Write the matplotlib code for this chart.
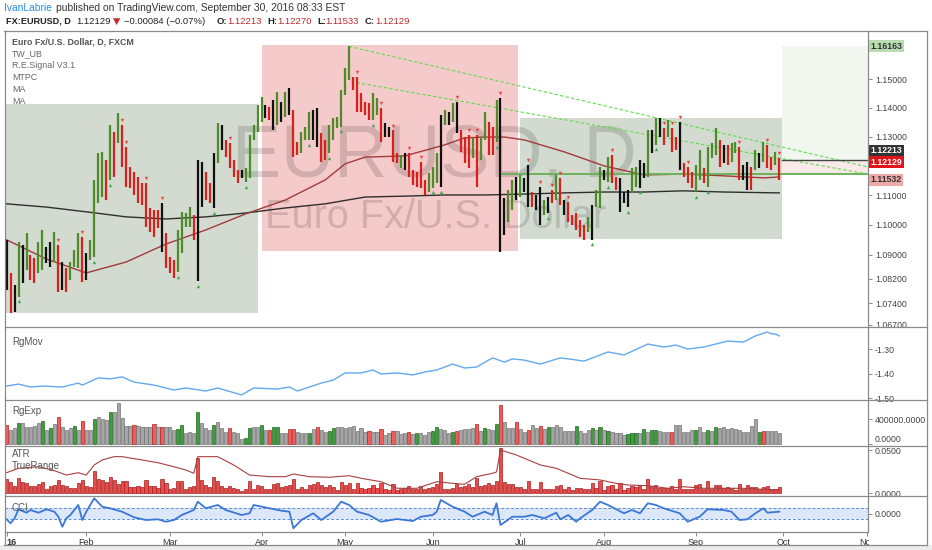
import matplotlib
matplotlib.use("Agg")
import matplotlib.pyplot as plt
from matplotlib.lines import Line2D
from matplotlib.patches import Rectangle
from matplotlib.ticker import FixedLocator, FixedFormatter, NullLocator, NullFormatter
import numpy as np

plt.rcParams['font.family'] = ['Liberation Sans', 'DejaVu Sans']

W, H = 932, 550

# ---- daily EURUSD bars (Jan 4 .. Sep 30 2016, one per weekday) ----
HIGH = [
    1.0950, 1.0840, 1.0800, 1.0943, 1.0933, 1.0973, 1.0900, 1.0889, 1.0943, 1.0983,
    1.0926, 1.0943, 1.0976, 1.0933, 1.0876, 1.0856, 1.0876, 1.0916, 1.0973, 1.0960,
    1.0906, 1.0950, 1.1152, 1.1244, 1.1248, 1.1220, 1.1341, 1.1317, 1.1382, 1.1341,
    1.1265, 1.1196, 1.1179, 1.1162, 1.1142, 1.1142, 1.1057, 1.1050, 1.1050, 1.1074,
    1.0973, 1.0893, 1.0883, 1.0983, 1.1044, 1.1040, 1.1060, 1.1033, 1.1220, 1.1213,
    1.1179, 1.1142, 1.1244, 1.1348, 1.1341, 1.1289, 1.1279, 1.1220, 1.1186, 1.1186,
    1.1193, 1.1306, 1.1341, 1.1410, 1.1438, 1.1410, 1.1403, 1.1428, 1.1456, 1.1421,
    1.1456, 1.1469, 1.1393, 1.1282, 1.1317, 1.1334, 1.1386, 1.1393, 1.1400, 1.1313,
    1.1289, 1.1341, 1.1365, 1.1369, 1.1463, 1.1540, 1.1616, 1.1508, 1.1508, 1.1452,
    1.1421, 1.1417, 1.1452, 1.1435, 1.1400, 1.1348, 1.1334, 1.1323, 1.1244, 1.1237,
    1.1244, 1.1244, 1.1186, 1.1179, 1.1213, 1.1152, 1.1176, 1.1196, 1.1244, 1.1376,
    1.1393, 1.1386, 1.1417, 1.1421, 1.1323, 1.1299, 1.1306, 1.1296, 1.1306, 1.1299,
    1.1386, 1.1351, 1.1334, 1.1428, 1.1435, 1.1091, 1.1118, 1.1152, 1.1162, 1.1169,
    1.1159, 1.1203, 1.1111, 1.1101, 1.1128, 1.1084, 1.1094, 1.1118, 1.1169, 1.1159,
    1.1084, 1.1077, 1.1033, 1.1040, 1.1017, 1.1000, 1.1027, 1.1067, 1.1118, 1.1196,
    1.1186, 1.1230, 1.1237, 1.1162, 1.1159, 1.1111, 1.1118, 1.1193, 1.1196, 1.1220,
    1.1210, 1.1323, 1.1323, 1.1365, 1.1365, 1.1330, 1.1358, 1.1330, 1.1299, 1.1351,
    1.1210, 1.1196, 1.1179, 1.1203, 1.1255, 1.1193, 1.1265, 1.1279, 1.1330, 1.1289,
    1.1272, 1.1272, 1.1279, 1.1282, 1.1265, 1.1203, 1.1213, 1.1196, 1.1255, 1.1244,
    1.1282, 1.1272, 1.1230, 1.1248, 1.1227,
]
LOW = [
    1.0784, 1.0708, 1.0712, 1.0761, 1.0807, 1.0850, 1.0817, 1.0807, 1.0840, 1.0850,
    1.0873, 1.0860, 1.0876, 1.0777, 1.0784, 1.0777, 1.0817, 1.0860, 1.0856, 1.0810,
    1.0817, 1.0883, 1.0893, 1.1074, 1.1094, 1.1084, 1.1152, 1.1162, 1.1279, 1.1196,
    1.1128, 1.1125, 1.1101, 1.1074, 1.1067, 1.0993, 1.0976, 1.0960, 1.0990, 1.0910,
    1.0856, 1.0840, 1.0823, 1.0843, 1.0906, 1.0993, 1.0993, 1.0950, 1.0813, 1.1060,
    1.1084, 1.1074, 1.1057, 1.1210, 1.1255, 1.1230, 1.1193, 1.1162, 1.1142, 1.1159,
    1.1145, 1.1159, 1.1289, 1.1317, 1.1351, 1.1365, 1.1358, 1.1324, 1.1341, 1.1351,
    1.1369, 1.1375, 1.1230, 1.1237, 1.1244, 1.1289, 1.1289, 1.1289, 1.1265, 1.1213,
    1.1220, 1.1244, 1.1289, 1.1330, 1.1334, 1.1445, 1.1498, 1.1463, 1.1386, 1.1386,
    1.1375, 1.1358, 1.1358, 1.1375, 1.1282, 1.1299, 1.1299, 1.1213, 1.1210, 1.1193,
    1.1186, 1.1162, 1.1135, 1.1128, 1.1125, 1.1101, 1.1111, 1.1125, 1.1142, 1.1128,
    1.1341, 1.1341, 1.1351, 1.1313, 1.1248, 1.1210, 1.1193, 1.1227, 1.1128, 1.1220,
    1.1289, 1.1237, 1.1237, 1.1282, 1.0910, 1.0966, 1.1010, 1.1050, 1.1084, 1.1094,
    1.1111, 1.1060, 1.1060, 1.1050, 1.1000, 1.1033, 1.1040, 1.1074, 1.1084, 1.1067,
    1.1033, 1.1010, 1.1000, 1.0983, 1.0960, 1.0950, 1.0976, 1.0950, 1.1060, 1.1057,
    1.1152, 1.1145, 1.1142, 1.1118, 1.1044, 1.1074, 1.1060, 1.1108, 1.1128, 1.1125,
    1.1159, 1.1162, 1.1244, 1.1272, 1.1299, 1.1272, 1.1299, 1.1248, 1.1255, 1.1186,
    1.1162, 1.1142, 1.1125, 1.1111, 1.1152, 1.1142, 1.1128, 1.1227, 1.1237, 1.1196,
    1.1210, 1.1203, 1.1213, 1.1244, 1.1152, 1.1152, 1.1118, 1.1118, 1.1186, 1.1193,
    1.1213, 1.1193, 1.1186, 1.1203, 1.1153,
]
# g = up signal colour, r = down, k = neutral
BAR_COLORS = ("krkgkgrrggkkgrkrgggr" "kggggrgrgrrrrrrrrrrk" "rrrggggrkkrrkgkrrrrk"
              "gggggkrkgkgkrrgggkkr" "rggggggrrrrrggrkkrrg" "krrrrrgggkgkgkrrrgrg"
              "grrgkkggkgkkrkkgkrgr" "krrrrrgkggkgrrkkkggk" "kgkgkrgrrkrrrggrgggr"
              "krggrkkrgkgrrgr")

SIGNAL_DOWN = [13, 19, 29, 30, 35, 39, 56, 88, 94, 97, 101, 104, 113, 116, 118, 124,
               131, 134, 137, 139, 141, 152, 165, 167, 169, 171, 184, 191, 194]
SIGNAL_UP = [3, 22, 26, 43, 48, 52, 60, 76, 81, 84, 92, 107, 109, 123, 136, 147,
             151, 156, 159, 163, 173, 176]

MA_FAST_IDX = [0, 10, 20, 30, 40, 50, 60, 70, 80, 85, 90, 100, 110, 115, 120, 125,
               130, 140, 150, 160, 170, 180, 190, 194]
MA_FAST = [1.0950, 1.0886, 1.0840, 1.0876, 1.0936, 1.0983, 1.1037, 1.1084, 1.1152,
           1.1207, 1.1230, 1.1234, 1.1272, 1.1296, 1.1299, 1.1299, 1.1289, 1.1248,
           1.1200, 1.1169, 1.1172, 1.1166, 1.1159, 1.1162]
MA_SLOW_IDX = [0, 10, 20, 30, 40, 50, 60, 70, 80, 90, 100, 110, 120, 130, 140, 150,
               160, 170, 180, 194]
MA_SLOW = [1.1071, 1.1060, 1.1044, 1.1027, 1.1020, 1.1027, 1.1040, 1.1057, 1.1071,
           1.1094, 1.1097, 1.1101, 1.1101, 1.1104, 1.1108, 1.1111, 1.1111, 1.1115,
           1.1111, 1.1108]

# drawings on the price pane
BOX_GRAY = [(-0.2, 63.1, 1.0709, 1.1414), (129.0, 194.6, 1.0952, 1.1364)]
BOX_PINK = [(64.0, 128.3, 1.0914, 1.1620)]
TREND_A = [(86.0, 1.1616), (216.3, 1.1196)]
TREND_B = [(86.5, 1.1492), (216.3, 1.1172)]
SUPPORT = (124.0, 1.11723)
POS_START = 194.6
POS_TARGET, POS_ENTRY, POS_STOP = 1.16163, 1.12213, 1.11723
LAST_CLOSE, LAST_LOW = 1.12129, 1.11532

PRICE_TICKS = [1.067, 1.074, 1.082, 1.09, 1.10, 1.11, 1.13, 1.14, 1.15]

RGMOV_IDX = [0, 3, 6, 9, 14, 18, 19, 23, 26, 29, 32, 37, 42, 45, 50, 53, 59, 62, 68, 71,
             73, 79, 82, 85, 89, 92, 94, 98, 102, 105, 108, 112, 115, 118, 122, 125, 127,
             130, 134, 139, 141, 145, 151, 155, 161, 165, 168, 171, 175, 178, 181, 185,
             188, 191, 192, 193, 194]
RGMOV = [-1.450, -1.442, -1.454, -1.450, -1.454, -1.438, -1.446, -1.417, -1.421, -1.413,
         -1.434, -1.446, -1.466, -1.458, -1.470, -1.458, -1.486, -1.458, -1.462, -1.454,
         -1.470, -1.438, -1.426, -1.397, -1.397, -1.385, -1.401, -1.397, -1.405, -1.393,
         -1.385, -1.361, -1.377, -1.373, -1.336, -1.353, -1.340, -1.345, -1.361, -1.336,
         -1.340, -1.349, -1.312, -1.324, -1.280, -1.292, -1.284, -1.300, -1.292, -1.280,
         -1.268, -1.272, -1.247, -1.231, -1.239, -1.239, -1.247]

# RgExp histogram, thousands
RGEXP_K = [
    308, 227, 259, 345, 345, 280, 280, 291, 345, 377, 227, 254, 324, 442, 280, 227, 254, 291, 227, 377,
    227, 227, 400, 432, 410, 389, 523, 523, 659, 416, 291, 291, 303, 291, 280, 270, 280, 324, 280, 270,
    270, 280, 227, 238, 313, 173, 199, 183, 523, 335, 254, 227, 303, 356, 254, 199, 254, 199, 173, 76,
    92, 254, 270, 280, 313, 227, 227, 270, 280, 173, 183, 238, 238, 199, 183, 173, 183, 238, 280, 227,
    199, 215, 254, 280, 280, 254, 280, 296, 211, 254, 189, 211, 189, 189, 243, 146, 173, 211, 211, 157,
    173, 189, 157, 173, 173, 146, 199, 211, 275, 243, 227, 173, 189, 211, 222, 243, 243, 254, 329, 211,
    254, 243, 227, 319, 632, 361, 264, 254, 351, 243, 199, 227, 308, 264, 296, 243, 280, 280, 308, 270,
    215, 215, 215, 291, 215, 183, 227, 254, 227, 280, 227, 211, 194, 183, 183, 146, 157, 173, 173, 183,
    248, 194, 227, 227, 206, 194, 194, 194, 303, 303, 194, 194, 227, 227, 270, 194, 227, 206, 270, 254,
    270, 248, 259, 248, 227, 194, 194, 291, 400, 194, 206, 206, 211, 215, 183,
]
RGEXP_COLORS = ("rkkgkkkkkgkgkrkkkgkr" "kkgkkkgkkkkkrkkkkrkr" "kkkggkkkgkkkgkkkrkkk"
                "ggkkgkrggkkrrkkkgkrk" "kggkkkkkkkkrkkrkkrkk" "krkgkkkggkkkgrkkkkrk"
                "gkkgrkkkrkkrkkrkgkkk" "kkkgkkkgkgkgkkkkgggk" "gkggkkkrkkkkkgkkgkgk"
                "kkkkkkkkkgrkkkk")

ATR_IDX = [0, 3, 8, 12, 15, 18, 20, 22, 24, 27, 29, 34, 38, 42, 45, 47, 48, 50, 53, 57,
           61, 66, 70, 72, 76, 81, 86, 90, 94, 98, 103, 108, 112, 115, 118, 122, 123, 124,
           128, 131, 134, 138, 141, 144, 149, 153, 156, 161, 166, 170, 175, 180, 185, 190, 194]
ATR = [0.0238, 0.0289, 0.0307, 0.0261, 0.0211, 0.0238, 0.0211, 0.0327, 0.0385, 0.0423,
       0.0423, 0.0385, 0.0353, 0.0307, 0.0269, 0.0231, 0.0423, 0.0423, 0.0423, 0.0327,
       0.0211, 0.0192, 0.0192, 0.0223, 0.0192, 0.0185, 0.0203, 0.0165, 0.0134, 0.0058,
       0.0058, 0.0134, 0.0115, 0.0104, 0.0192, 0.0231, 0.0246, 0.0500, 0.0442, 0.0385,
       0.0327, 0.0289, 0.0231, 0.0173, 0.0154, 0.0115, 0.0096, 0.0088, 0.0058, 0.0076,
       0.0058, 0.0058, 0.0058, 0.0046, 0.0038]

CCI_IDX = [0, 1, 2, 3, 5, 6, 8, 10, 12, 13, 14, 15, 16, 18, 19, 20, 22, 24, 26, 29,
           32, 35, 38, 40, 42, 44, 47, 48, 50, 53, 55, 59, 61, 62, 66, 69, 71, 72, 74, 77,
           79, 82, 84, 86, 88, 91, 94, 98, 102, 104, 107, 108, 109, 112, 115, 117, 120, 122, 123, 124,
           127, 130, 132, 135, 138, 139, 141, 143, 144, 147, 149, 151, 155, 157, 159, 161, 163, 165, 169, 171,
           174, 176, 180, 182, 184, 186, 188, 190, 191, 194]
CCI = [-100, -173, -82, 82, 20, 69, 20, 82, 38, -53, -235, -82, -22, 160, -113, 38, 282, 129, 100, 38,
       -64, -113, -100, -144, -113, -22, 69, 220, 100, 160, 69, -22, 9, 160, 100, 56, 38, -264, -113, 9,
       -113, 38, 220, 160, 38, -22, -144, -95, -131, -53, -22, 38, 251, 129, 38, -53, 38, -22, 191, -204,
       -53, -53, -22, -82, 20, -100, -22, -144, -82, 69, 220, 160, 9, 69, 9, 191, 160, 100, 9, -144,
       -53, 82, 69, 38, -113, -100, 9, 100, 20, 38]

MONTH_IDX = [0, 20, 41, 64, 85, 107, 129, 150, 173, 195, 216]
MONTH_LABELS = ["16", "Feb", "Mar", "Apr", "May", "Jun", "Jul", "Aug", "Sep", "Oct", "Nov"]

BAR_RGB = {"g": "#4f8a2b", "r": "#d8211c", "k": "#111111"}
HIST_RGB = {"g": ("#3f9c3f", "#1f6a1f"), "r": ("#f45a5a", "#b02020"), "k": ("#a6a6a6", "#747474")}

XLIM = (-0.4, 216.27)
X_LEFT, X_RIGHT = 5, 868


def fx(px):
    return px / W


def fy(py):
    return 1 - py / H


fig = plt.figure(figsize=(W / 100, H / 100), dpi=100)
fig.patch.set_facecolor("white")


def add_panel(y_top, y_bot):
    ax = fig.add_axes([fx(X_LEFT), fy(y_bot), fx(X_RIGHT) - fx(X_LEFT), (y_bot - y_top) / H])
    ax.set_xlim(*XLIM)
    for s in ax.spines.values():
        s.set_visible(False)
    ax.tick_params(axis="x", bottom=False, labelbottom=False)
    ax.tick_params(axis="y", which="both", left=False, labelleft=False, right=True,
                   labelright=True, length=3, width=0.6, color="#777777",
                   labelsize=6.3, labelcolor="#444444", pad=2)
    return ax


x = np.arange(len(HIGH))
high = np.array(HIGH)
low = np.array(LOW)

# ---------------- price pane ----------------
ax = add_panel(31, 327)
ax.set_yscale("log")
ax.set_ylim(1.06625, 1.16707)
ax.set_xlim(*XLIM)
ax.yaxis.set_major_locator(FixedLocator(PRICE_TICKS))
ax.yaxis.set_major_formatter(FixedFormatter([f"{t:.5f}" for t in PRICE_TICKS]))
ax.yaxis.set_minor_locator(NullLocator())
ax.yaxis.set_minor_formatter(NullFormatter())

for x0, x1, p0, p1 in BOX_GRAY:
    ax.add_patch(Rectangle((x0, p0), x1 - x0, p1 - p0, fc="#d3dbd0", ec="none", zorder=0.5))
for x0, x1, p0, p1 in BOX_PINK:
    ax.add_patch(Rectangle((x0, p0), x1 - x0, p1 - p0, fc="#f5caca", ec="none", zorder=0.5))

# long position tool
ax.add_patch(Rectangle((POS_START, POS_ENTRY), XLIM[1] - POS_START, POS_TARGET - POS_ENTRY,
                       fc="#f1f6ef", ec="none", zorder=0.5))
ax.add_patch(Rectangle((POS_START, POS_STOP), XLIM[1] - POS_START, POS_ENTRY - POS_STOP,
                       fc="#f9e9e9", ec="none", zorder=0.5))
ax.plot([POS_START, XLIM[1]], [POS_ENTRY, POS_ENTRY], color="#444444", lw=1.0, zorder=3)

ax.text(0.498, 0.574, "EURUSD, D", transform=ax.transAxes, ha="center", va="center",
        fontsize=53, color="black", alpha=0.14, zorder=1)
ax.text(0.499, 0.372, "Euro Fx/U.S. Dollar", transform=ax.transAxes, ha="center", va="center",
        fontsize=28.5, color="black", alpha=0.14, zorder=1)

ax.plot(MA_SLOW_IDX, MA_SLOW, color="#2e2e2e", lw=1.0, zorder=2)
ax.plot(MA_FAST_IDX, MA_FAST, color="#a23a3a", lw=1.0, zorder=2)
ax.plot([SUPPORT[0], XLIM[1]], [SUPPORT[1], SUPPORT[1]], color="#6db25c", lw=1.4, zorder=2.5)
ax.plot(*zip(*TREND_A), color="#5fdc4c", lw=0.8, ls=(0, (3, 2)), zorder=2.5)
ax.plot(*zip(*TREND_B), color="#5fdc4c", lw=0.8, ls=(0, (3, 2)), zorder=2.5)

ax.vlines(x, low, high, colors=[BAR_RGB[c] for c in BAR_COLORS], lw=1.6, zorder=4)
ax.scatter(SIGNAL_DOWN, high[SIGNAL_DOWN] * 1.0014, marker="v", s=6, color="#e8453c",
           linewidths=0, zorder=5)
ax.scatter(SIGNAL_UP, low[SIGNAL_UP] * 0.9986, marker="^", s=6, color="#3fa84a",
           linewidths=0, zorder=5)
ax.set_xlim(*XLIM)


def price_tag(price, text, fc, tc, dy=0.0):
    ax.annotate(text, xy=(1, price), xycoords=("axes fraction", "data"),
                xytext=(1.6, dy), textcoords="offset points", ha="left", va="center",
                fontsize=6.3, color=tc, fontweight="bold", annotation_clip=False, zorder=10,
                bbox=dict(boxstyle="square,pad=0.18", fc=fc, ec="none"))


price_tag(POS_TARGET, "1.16163", "#b9ddb0", "#333333")
price_tag(POS_ENTRY, "1.12213", "#333333", "white", dy=6.5)
price_tag(LAST_CLOSE, "1.12129", "#e0141b", "white")
price_tag(LAST_LOW, "1.11532", "#eea8a8", "#333333")

# ---------------- RgMov ----------------
ax2 = add_panel(327, 400)
ax2.set_ylim(-1.5065, -1.2109)
ax2.plot(RGMOV_IDX, RGMOV, color="#63a9ee", lw=1.0)
ax2.yaxis.set_major_locator(FixedLocator([-1.3, -1.4, -1.5]))
ax2.yaxis.set_major_formatter(FixedFormatter(["-1.30", "-1.40", "-1.50"]))

# ---------------- RgExp ----------------
ax3 = add_panel(400, 446)
ax3.set_ylim(-32400, 712500)
rg = np.array(RGEXP_K) * 1000
ax3.bar(x, rg, width=0.8, color=[HIST_RGB[c][0] for c in RGEXP_COLORS],
        edgecolor=[HIST_RGB[c][1] for c in RGEXP_COLORS], linewidth=0.5)
ax3.yaxis.set_major_locator(FixedLocator([0, 400000]))
ax3.yaxis.set_major_formatter(FixedFormatter(["0.0000", "400000.0000"]))
fig.canvas.draw()
ax3.get_yticklabels()[0].set_verticalalignment("bottom")

# ---------------- ATR / TrueRange ----------------
ax4 = add_panel(446, 496)
ax4.set_ylim(-0.00312, 0.05462)
ax4.bar(x, high - low, width=0.8, color="#ec4b4b", edgecolor="#a21d1d", linewidth=0.5)
ax4.plot(ATR_IDX, ATR, color="#a8403f", lw=0.8)
ax4.yaxis.set_major_locator(FixedLocator([0, 0.05]))
ax4.yaxis.set_major_formatter(FixedFormatter(["0.0000", "0.0500"]))

# ---------------- CCI ----------------
ax5 = add_panel(496, 532)
ax5.set_ylim(-330.9, 323.6)
ax5.axhspan(-100, 100, color="#dce7f9", lw=0)
for lvl in (-100, 100):
    ax5.axhline(lvl, color="#5a8fdc", lw=0.7, ls=(0, (3, 2)))
ax5.plot(CCI_IDX, CCI, color="#3b77d6", lw=1.3)
ax5.yaxis.set_major_locator(FixedLocator([0]))
ax5.yaxis.set_major_formatter(FixedFormatter(["0.0000"]))
ax5.set_xticks(MONTH_IDX)
ax5.set_xticklabels(MONTH_LABELS)
ax5.tick_params(axis="x", bottom=True, labelbottom=True, length=3, width=0.6,
                color="#777777", labelsize=6.5, labelcolor="#333333", pad=1.5)
first = ax5.get_xticklabels()[0]
first.set_fontweight("bold")
first.set_horizontalalignment("left")

# ---------------- frame ----------------
fig.add_artist(Rectangle((fx(869), 0), fx(58), fy(533), transform=fig.transFigure,
                         fc="white", ec="none", zorder=9))
fig.add_artist(Rectangle((0, 0), 1, 5 / H, transform=fig.transFigure,
                         fc="#ececec", ec="none", zorder=9))
frame = dict(color="#8a8a8a", lw=0.9, zorder=11)
for yy in (31, 545):
    fig.add_artist(Line2D([fx(4), fx(927)], [fy(yy), fy(yy)], transform=fig.transFigure, **frame))
for yy in (327, 400, 446, 496):
    fig.add_artist(Line2D([fx(5), fx(927)], [fy(yy), fy(yy)], transform=fig.transFigure, **frame))
fig.add_artist(Line2D([fx(5), fx(868)], [fy(532), fy(532)], transform=fig.transFigure, **frame))
fig.add_artist(Line2D([fx(5), fx(5)], [fy(31), fy(545)], transform=fig.transFigure, **frame))
fig.add_artist(Line2D([fx(868), fx(868)], [fy(31), fy(532)], transform=fig.transFigure, **frame))
fig.add_artist(Line2D([fx(927), fx(927)], [fy(31), fy(545)], transform=fig.transFigure, **frame))


# ---------------- texts ----------------
def ftext(px, py, s, **kw):
    kw.setdefault("va", "center")
    kw.setdefault("ha", "left")
    fig.text(fx(px), fy(py), s, zorder=12, **kw)


ftext(4, 8, "IvanLabrie", color="#2a8ee2", fontsize=7.4)
ftext(56, 8, "published on TradingView.com, September 30, 2016 08:33 EST",
      color="#333333", fontsize=7.4)

HDR = 21
ftext(6, HDR, "FX:EURUSD, D", color="#222222", fontsize=6.6, fontweight="bold")
ftext(76, HDR, "1.12129", color="#222222", fontsize=6.8)
ftext(113, HDR, "\u25bc", color="#c0282d", fontsize=6.8, family=["DejaVu Sans"])
ftext(124, HDR, "\u22120.00084 (\u22120.07%)", color="#222222", fontsize=6.8)
for px, lab, val in [(217, "O:", "1.12213"), (267, "H:", "1.12270"),
                     (317, "L:", "1.11533"), (365, "C:", "1.12129")]:
    ftext(px, HDR, lab, color="#222222", fontsize=6.8, fontweight="bold")
    ftext(px + 10 if lab != "L:" else px + 8, HDR, val, color="#c0282d", fontsize=6.8)

ftext(12, 42.5, "Euro Fx/U.S. Dollar, D, FXCM", color="#555555", fontsize=6.4, fontweight="bold")
for py, s in [(54, "TW_UB"), (66, "R.E.Signal V3.1"), (78, "MTPC"), (90, "MA"), (102, "MA")]:
    ftext(12, py, s, color="#666666", fontsize=6.4)

ftext(12, 342, "RgMov", color="#555555", fontsize=7)
ftext(12, 411, "RgExp", color="#555555", fontsize=7)
ftext(12, 454, "ATR", color="#555555", fontsize=7)
ftext(12, 466, "TrueRange", color="#555555", fontsize=7)
ftext(12, 508, "CCI", color="#555555", fontsize=7)

fig.savefig("out.png", dpi=100)
